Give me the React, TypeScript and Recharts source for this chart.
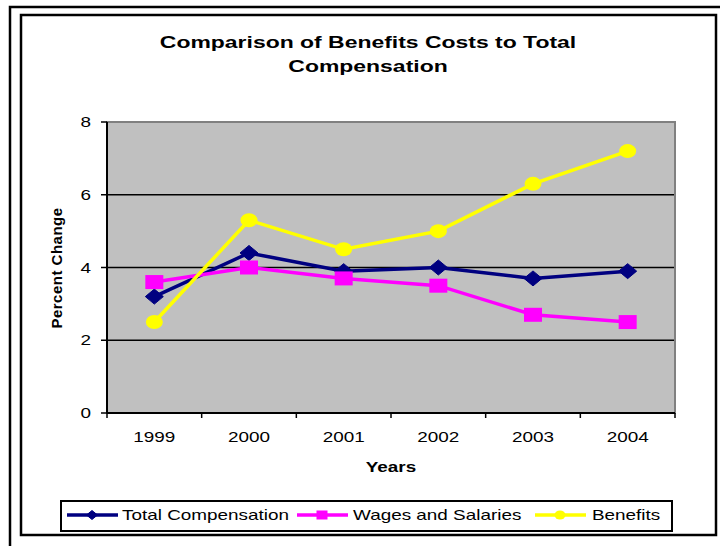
import React from "react";
import {
  CartesianGrid,
  Legend,
  Line,
  LineChart,
  ReferenceArea,
  XAxis,
  YAxis
} from "recharts";

const years = ["1999", "2000", "2001", "2002", "2003", "2004"];
const totalCompensation = [3.2, 4.4, 3.9, 4.0, 3.7, 3.9];
const wagesAndSalaries = [3.6, 4.0, 3.7, 3.5, 2.7, 2.5];
const benefits = [2.5, 5.3, 4.5, 5.0, 6.3, 7.2];
const yTicks = [0, 2, 4, 6, 8];

const rows = years.map((year, i) => ({
  year,
  total: totalCompensation[i],
  wages: wagesAndSalaries[i],
  benefits: benefits[i]
}));

const FONT = "'Liberation Sans', Arial, sans-serif";
// old spreadsheet export: every glyph is a bit wider than normal
const SX = 1.35;
const X_TICK = 5;
const X_GAP = 14;

type WideTextProps = {
  x: number;
  y: number;
  size: number;
  bold?: boolean;
  anchor?: "start" | "middle" | "end";
  dy?: string;
  children: React.ReactNode;
};

function WideText({ x, y, size, bold, anchor = "middle", dy, children }: WideTextProps) {
  return (
    <text
      transform={`translate(${x},${y}) scale(${SX},1)`}
      textAnchor={anchor}
      dy={dy}
      fontFamily={FONT}
      fontSize={size}
      fontWeight={bold ? 700 : 400}
      fill="#000"
    >
      {children}
    </text>
  );
}

// year label in the middle of its band, tick marks on the band edges
function YearTick(props: any) {
  const { x, y, payload, index } = props;
  const half = payload?.offset ?? 0;
  const axisY = y - X_TICK - X_GAP;
  return (
    <g>
      <line x1={x - half} x2={x - half} y1={axisY} y2={axisY + X_TICK} stroke="#000" strokeWidth={1.5} />
      {index === years.length - 1 && (
        <line x1={x + half} x2={x + half} y1={axisY} y2={axisY + X_TICK} stroke="#000" strokeWidth={1.5} />
      )}
      <WideText x={x} y={y} size={14} dy="0.71em">
        {payload.value}
      </WideText>
    </g>
  );
}

function PercentTick(props: any) {
  const { x, y, payload } = props;
  return (
    <WideText x={x} y={y} size={14} anchor="end" dy="0.36em">
      {payload.value}
    </WideText>
  );
}

function diamond(cx: number, cy: number, w: number, h: number, color: string, key?: string) {
  return (
    <path
      key={key}
      d={`M${cx - w},${cy} L${cx},${cy - h} L${cx + w},${cy} L${cx},${cy + h} Z`}
      fill={color}
      stroke={color}
    />
  );
}

function square(cx: number, cy: number, w: number, h: number, color: string, key?: string) {
  return <rect key={key} x={cx - w} y={cy - h} width={w * 2} height={h * 2} fill={color} />;
}

function oval(cx: number, cy: number, w: number, h: number, color: string, key?: string) {
  return <ellipse key={key} cx={cx} cy={cy} rx={w} ry={h} fill={color} />;
}

const seriesStyle: Record<string, { color: string; marker: typeof diamond }> = {
  total: { color: "#000080", marker: diamond },
  wages: { color: "#FF00FF", marker: square },
  benefits: { color: "#FFFF00", marker: oval }
};

const dotOf = (dataKey: string, w: number, h: number) => (p: any) => {
  const s = seriesStyle[dataKey];
  return s.marker(p.cx, p.cy, w, h, s.color, `${dataKey}-${p.index}`);
};

// legend slots per series: start of the sample line and start of the label
const legendSlots: Record<string, { line: number; text: number }> = {
  total: { line: 7, text: 62 },
  wages: { line: 237, text: 293 },
  benefits: { line: 475, text: 532 }
};

function LegendBox(props: any) {
  const items = props.payload ?? [];
  return (
    <svg width={613} height={33} style={{ display: "block" }}>
      <rect x={1} y={1} width={611} height={30} fill="#fff" stroke="#000" strokeWidth={2} />
      {items.map((item: any) => {
        const slot = legendSlots[item.dataKey];
        const s = seriesStyle[item.dataKey];
        if (!slot || !s) return null;
        return (
          <g key={item.dataKey}>
            <line x1={slot.line} x2={slot.line + 51} y1={15} y2={15} stroke={s.color} strokeWidth={3.5} />
            {s.marker(slot.line + 25, 15, 5.5, 4.5, s.color)}
            <WideText x={slot.text} y={20} size={14} anchor="start">
              {item.value}
            </WideText>
          </g>
        );
      })}
    </svg>
  );
}

export default function App() {
  return (
    <div style={{ position: "absolute", left: 0, top: 0, width: 720, height: 546, background: "#fff" }}>
      <svg width={720} height={546} style={{ position: "absolute", left: 0, top: 0 }}>
        <polyline points="720,7 10,7 10,546" fill="none" stroke="#000" strokeWidth={2.5} />
        <rect x={21} y={15} width={695} height={520} fill="none" stroke="#000" strokeWidth={2.5} />
        <WideText x={368} y={48} size={17} bold>
          Comparison of Benefits Costs to Total
        </WideText>
        <WideText x={368} y={72} size={17} bold>
          Compensation
        </WideText>
        <WideText x={391} y={472} size={14} bold>
          Years
        </WideText>
        <text
          transform="translate(62,268) rotate(-90)"
          textAnchor="middle"
          fontFamily={FONT}
          fontSize={15}
          fontWeight={700}
          letterSpacing={0.5}
        >
          Percent Change
        </text>
      </svg>
      <div style={{ position: "absolute", left: 0, top: 0 }}>
        <LineChart
          width={720}
          height={546}
          data={rows}
          margin={{ top: 122, right: 45, bottom: 103, left: 67 }}
        >
          <CartesianGrid vertical={false} stroke="#000" strokeWidth={1.4} fill="#C0C0C0" fillOpacity={1} />
          <ReferenceArea y1={0} y2={8} fill="none" stroke="#808080" strokeWidth={2} ifOverflow="visible" />
          <XAxis
            dataKey="year"
            scale="band"
            interval={0}
            height={30}
            tickLine={false}
            tickSize={X_TICK}
            tickMargin={X_GAP}
            axisLine={{ stroke: "#000", strokeWidth: 2 }}
            tick={<YearTick />}
          />
          <YAxis
            domain={[0, 8]}
            ticks={yTicks}
            width={40}
            tickSize={6}
            tickMargin={10}
            tickLine={{ stroke: "#000", strokeWidth: 1.5 }}
            axisLine={{ stroke: "#000", strokeWidth: 2 }}
            tick={<PercentTick />}
          />
          <Legend
            layout="horizontal"
            verticalAlign="middle"
            align="center"
            content={<LegendBox />}
            wrapperStyle={{ position: "absolute", left: 60, top: 500, width: 613, height: 33 }}
          />
          <Line
            dataKey="total"
            name="Total Compensation"
            stroke="#000080"
            strokeWidth={3.5}
            dot={dotOf("total", 9, 7.5)}
            isAnimationActive={false}
          />
          <Line
            dataKey="wages"
            name="Wages and Salaries"
            stroke="#FF00FF"
            strokeWidth={3.5}
            dot={dotOf("wages", 9, 7)}
            isAnimationActive={false}
          />
          <Line
            dataKey="benefits"
            name="Benefits"
            stroke="#FFFF00"
            strokeWidth={3.5}
            dot={dotOf("benefits", 8.5, 7)}
            isAnimationActive={false}
          />
        </LineChart>
      </div>
    </div>
  );
}
